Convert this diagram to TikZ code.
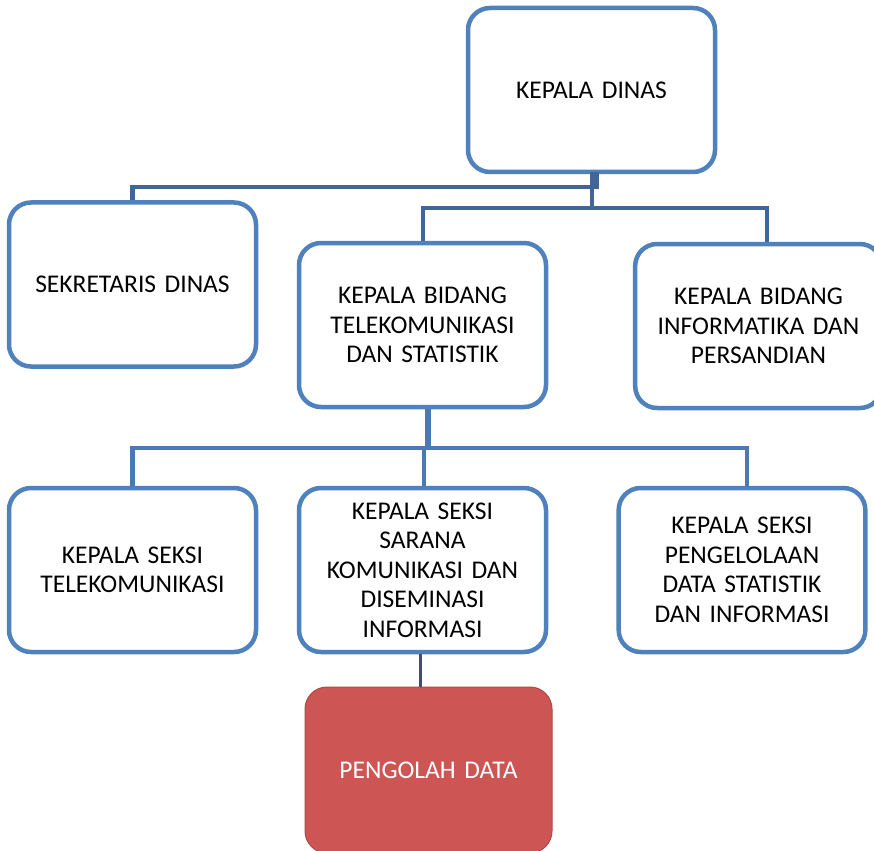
\documentclass[tikz,border=0pt]{standalone}
\usepackage{fontspec}
\setmainfont{Carlito}
\definecolor{boxblue}{RGB}{79,129,189}
\definecolor{linkblue}{RGB}{64,103,152}
\definecolor{linkblue2}{RGB}{74,121,180}
\definecolor{pengred}{RGB}{205,86,84}
\begin{document}
\begin{tikzpicture}[x=1pt,y=-1pt,
        unit/.style={draw=boxblue,line width=4.5pt,rounded corners=22pt,fill=white,
          minimum width=247pt,minimum height=164pt,align=center,text width=240pt,
          font=\fontsize{25.5}{29.5}\selectfont},
        conn/.style={draw=linkblue,line width=4.5pt},
        conn2/.style={draw=linkblue2,line width=4.5pt}]
        \useasboundingbox (0,0) rectangle (874,850);
        \node[unit] (dinas) at (591.5,90) {KEPALA DINAS};
        \node[unit] (sekretaris) at (132.5,284.5) {SEKRETARIS DINAS};
        \node[unit] (bidtel) at (422.5,325) {KEPALA BIDANG\\TELEKOMUNIKASI\\DAN STATISTIK};
        \node[unit,minimum width=243pt] (bidinf) at (758.5,326) {KEPALA BIDANG\\INFORMATIKA DAN\\PERSANDIAN};
        \node[unit] (sektel) at (132.5,570) {KEPALA SEKSI\\TELEKOMUNIKASI};
        \node[unit] (seksar) at (422.5,570) {KEPALA SEKSI\\SARANA\\KOMUNIKASI DAN\\DISEMINASI\\INFORMASI};
        \node[unit,minimum width=244pt] (sekpeng) at (742,570) {KEPALA SEKSI\\PENGELOLAAN\\DATA STATISTIK\\DAN INFORMASI};
        \node[unit,draw=pengred!85!black,line width=1pt,fill=pengred,text=white,
          minimum height=166pt] (pengolah) at (428.5,770) {PENGOLAH DATA};
        % kepala dinas ke bawah
        \coordinate (busA) at (592,187);
        \coordinate (busB) at (592,208);
        \fill[linkblue] (590,172) rectangle (599,189);
        \draw[conn] (busA) -| (sekretaris.north);
        \draw[conn] (busA) -- (busB);
        \draw[conn] ([xshift=0.5pt]bidtel.north) |- (busB) -| ([xshift=8.5pt]bidinf.north);
        % bidang telekomunikasi ke seksi
        \coordinate (busC) at (428,448);
        \draw[conn2,line width=2pt,double=linkblue2,double distance=1.5pt] ([xshift=5.5pt]bidtel.south) -- (busC);
        \draw[conn2] (sektel.north) |- (busC) -| ([xshift=5pt]sekpeng.north);
        \draw[conn2] ([xshift=1.5pt]seksar.north) -- ([xshift=1.5pt]seksar.north |- busC);
        % ke pengolah data
        \draw[draw=linkblue!80!black,line width=3pt] ([xshift=-2.5pt]seksar.south) -- ([xshift=-2.5pt]seksar.south |- pengolah.north);
\end{tikzpicture}
\end{document}
